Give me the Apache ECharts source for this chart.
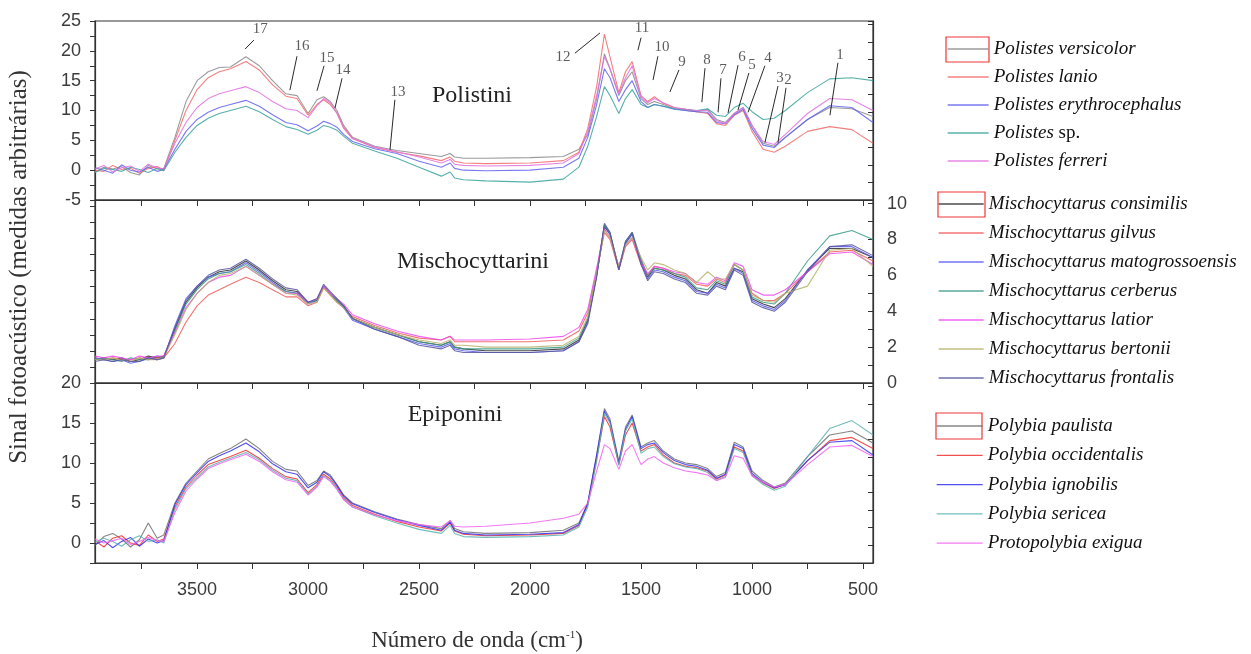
<!DOCTYPE html>
<html>
<head>
<meta charset="utf-8">
<script src="https://cdn.jsdelivr.net/npm/echarts@6/dist/echarts.min.js"></script>
<style>
  html, body { margin: 0; padding: 0; background: #fff; }
  #chart { width: 1251px; height: 654px; }
</style>
</head>
<body>
<div id="chart"></div>
<script>
// wavenumber grid (cm-1) shared by every spectrum
const wavenumbers = [3960, 3920, 3880, 3840, 3800, 3760, 3720, 3680, 3650,
  3600, 3550, 3500, 3450, 3400, 3350, 3280,
  3220, 3160, 3100, 3050, 3000,
  2960, 2930, 2900, 2870, 2840, 2800,
  2700, 2600, 2500, 2400, 2360, 2340, 2300,
  2200, 2000, 1850, 1780, 1740, 1700,
  1665, 1640, 1600, 1570, 1540,
  1500, 1470, 1440, 1400, 1350, 1300,
  1250, 1200, 1160, 1120, 1080, 1040,
  1000, 950, 900, 850, 750, 650, 550, 455];

// Polistini (left axis, top panel)
const polistesVersicolor = [-0.3, 0.5, 0.2, 0.6, -0.4, -0.8, 0.8, 0.2, 0.3,
  5.5, 11.5, 15, 16.5, 17.2, 17.3, 19,
  17.5, 15, 12.8, 12.5, 9.5,
  11.8, 12.3, 11.5, 10, 7.5, 5.5,
  4.0, 3.3, 2.8, 2.3, 2.8, 2.2, 2.0,
  2.0, 2.1, 2.3, 3.5, 6, 12,
  19.5, 17, 12.5, 15, 16.5,
  12, 11, 11.5, 11, 10.3, 10,
  9.8, 10.2, 8.5, 8, 9.5, 10.5,
  7.5, 4.5, 4, 5.5, 8.5, 10.5, 10.3, 9];
const polistesLanio = [0, -0.2, 0.8, 0.1, 0.3, -0.5, 0.3, 0.6, 0,
  5, 10, 13.5, 15.5, 16.5, 17, 18.2,
  16.8, 14.3, 12.4, 12, 9.2,
  11, 11.8, 11, 9.6, 7.2, 5.3,
  3.8, 3.0, 2.4, 1.6, 2.2, 1.5, 1.2,
  1.1, 1.2, 1.6, 3, 7, 14,
  22.8, 19, 13, 16.5, 18.2,
  12.5, 11.5, 12.3, 11.2, 10.5, 10.2,
  9.8, 9.5, 7.8, 7.5, 9.2, 10,
  6.5, 3.5, 3, 4, 6.5, 7.3, 6.8, 4.5];
const polistesErythrocephalus = [0.4, 0, -0.5, 0.9, 0, -0.3, 0.5, -0.2, 0.1,
  3.5, 6.5, 8.5, 9.7, 10.5, 11, 11.7,
  10.7, 9.3, 8, 7.6, 6.6,
  7.4, 8.2, 7.8, 7.2, 6, 4.8,
  3.6, 2.8, 1.5, 0.5, 1.2, 0.3, 0,
  -0.1, 0, 0.5, 2, 5.5, 11,
  17, 15.5, 11.5, 13.5, 15,
  11.5, 10.5, 11, 10.7, 10.2, 10,
  9.8, 9.7, 8, 7.8, 9.3, 10.2,
  7, 4.2, 3.8, 5.5, 8.5, 10.8, 10.5, 8];
const polistesSp = [-0.4, 0.3, 0.1, -0.2, 0.5, 0.1, -0.4, 0.3, -0.1,
  3, 5.5, 7.5, 8.7, 9.5, 10, 10.7,
  9.8, 8.5, 7.3, 6.8, 6,
  6.7, 7.5, 7.2, 6.7, 5.7, 4.5,
  3.2, 2, 0.5, -1, -0.3, -1.3, -1.6,
  -1.8, -2, -1.5, 0.5, 4, 9,
  14, 12.5, 9.5, 12, 13.5,
  11, 10.5, 11, 10.7, 10.3, 10.2,
  10, 10.3, 9.2, 9, 10.5, 11.2,
  9.8, 8.5, 8.7, 10, 13, 15.3, 15.5, 15];
const polistesFerreri = [0.2, 0.8, -0.3, 0.4, 0.7, -0.2, 1, 0.4, 0.2,
  4.5, 8, 10.5, 12, 12.8, 13.3, 14,
  13, 11.5, 10.3, 10, 8.8,
  10.8, 12, 11.3, 9.5, 7, 5.3,
  3.9, 3.1, 2.2, 1.2, 1.8, 1, 0.8,
  0.7, 0.8, 1.2, 2.8, 6.5, 12.5,
  19, 17, 12.8, 15.5, 17.5,
  12.3, 11.3, 12, 11.3, 10.5, 10.2,
  10, 10, 8.3, 7.8, 9.5, 10.5,
  7.5, 4.8, 4.3, 6, 9.5, 12, 11.8, 10];

// Mischocyttarini (right axis 0-10, middle panel)
const mischConsimilis = [1.3, 1.4, 1.3, 1.4, 1.2, 1.3, 1.5, 1.4, 1.5,
  3, 4.5, 5.3, 5.9, 6.2, 6.3, 6.8,
  6.3, 5.7, 5.2, 5.1, 4.5,
  4.6, 5.4, 5, 4.6, 4.3, 3.6,
  3.1, 2.7, 2.3, 2.1, 2.3, 2, 1.9,
  1.8, 1.8, 1.9, 2.4, 3.5, 6,
  8.7, 8.3, 6.4, 7.8, 8.3,
  6.8, 5.9, 6.4, 6.3, 6, 5.8,
  5.2, 5, 5.6, 5.4, 6.4, 6.2,
  4.7, 4.4, 4.2, 4.7, 6.3, 7.5, 7.5, 7];
const mischGilvus = [1.4, 1.3, 1.4, 1.3, 1.3, 1.4, 1.3, 1.4, 1.4,
  2.2, 3.4, 4.3, 4.9, 5.2, 5.5, 5.9,
  5.6, 5.2, 4.8, 4.8, 4.3,
  4.5, 5.3, 4.9, 4.5, 4.2, 3.7,
  3.2, 2.8, 2.5, 2.4, 2.6, 2.3, 2.3,
  2.3, 2.3, 2.4, 2.9, 3.9, 6.2,
  8.4, 8.0, 6.3, 7.6, 8,
  6.6, 6, 6.5, 6.4, 6.1, 6,
  5.5, 5.4, 5.8, 5.6, 6.6, 6.3,
  5, 4.6, 4.6, 5, 6.2, 7.3, 7.4, 6.8];
const mischMatogrossoensis = [1.4, 1.3, 1.2, 1.3, 1.1, 1.2, 1.4, 1.3, 1.4,
  3.2, 4.7, 5.4, 5.9, 6.1, 6.2, 6.7,
  6.2, 5.6, 5.1, 5, 4.4,
  4.6, 5.4, 5, 4.6, 4.2, 3.5,
  3, 2.6, 2.2, 2, 2.2, 1.9, 1.8,
  1.7, 1.7, 1.8, 2.3, 3.4, 6,
  8.8, 8.3, 6.3, 7.8, 8.3,
  6.7, 5.8, 6.3, 6.2, 5.9, 5.7,
  5.1, 5, 5.5, 5.3, 6.4, 6.1,
  4.6, 4.3, 4.1, 4.6, 6.3, 7.6, 7.6, 7];
const mischCerberus = [1.3, 1.4, 1.3, 1.2, 1.4, 1.3, 1.3, 1.5, 1.4,
  2.9, 4.4, 5.2, 5.8, 6.1, 6.2, 6.6,
  6.1, 5.5, 5.1, 5, 4.5,
  4.6, 5.4, 5, 4.6, 4.3, 3.6,
  3.1, 2.7, 2.3, 2.1, 2.3, 2, 1.9,
  1.9, 1.9, 2, 2.5, 3.6, 6.1,
  8.8, 8.4, 6.4, 7.9, 8.4,
  6.9, 6, 6.4, 6.3, 6.1, 5.9,
  5.3, 5.2, 5.7, 5.5, 6.6, 6.3,
  4.8, 4.5, 4.4, 5, 6.8, 8.2, 8.5, 8];
const mischLatior = [1.5, 1.4, 1.5, 1.4, 1.3, 1.5, 1.4, 1.5, 1.5,
  2.8, 4.2, 5, 5.6, 5.9, 6, 6.5,
  6, 5.5, 5, 5, 4.5,
  4.7, 5.4, 5, 4.7, 4.4, 3.8,
  3.3, 2.9, 2.6, 2.4, 2.6, 2.4, 2.4,
  2.4, 2.45, 2.6, 3.1, 4.1, 6.4,
  8.6, 8.1, 6.5, 7.7, 8.1,
  6.7, 6.1, 6.5, 6.4, 6.2, 6.1,
  5.6, 5.5, 5.9, 5.7, 6.7, 6.5,
  5.2, 4.9, 4.9, 5.2, 6.2, 7.2, 7.3, 6.6];
const mischBertonii = [1.3, 1.3, 1.4, 1.3, 1.2, 1.4, 1.3, 1.3, 1.4,
  2.7, 4.1, 5, 5.6, 6, 6.1, 6.5,
  6, 5.5, 5, 4.9, 4.4,
  4.5, 5.3, 4.9, 4.5, 4.2, 3.6,
  3.1, 2.7, 2.4, 2.2, 2.4, 2.1, 2.1,
  2, 2, 2.1, 2.6, 3.7, 6.1,
  8.5, 8.1, 6.5, 7.7, 8.1,
  7, 6.3, 6.7, 6.6, 6.3, 6.1,
  5.6, 6.2, 5.8, 5.8, 6.6, 6.3,
  4.9, 4.6, 4.5, 5, 5.4, 7.4, 7.5, 6.5];
const mischFrontalis = [1.2, 1.3, 1.2, 1.3, 1.2, 1.2, 1.4, 1.3, 1.4,
  3.1, 4.6, 5.4, 6, 6.3, 6.4, 6.9,
  6.4, 5.8, 5.3, 5.2, 4.5,
  4.7, 5.5, 5.1, 4.7, 4.3, 3.6,
  3, 2.6, 2.1, 1.9, 2.1, 1.8, 1.7,
  1.7, 1.7, 1.8, 2.3, 3.3, 5.9,
  8.9, 8.4, 6.3, 7.9, 8.4,
  6.6, 5.7, 6.2, 6.1, 5.8, 5.6,
  5, 4.9, 5.4, 5.2, 6.3, 6,
  4.5, 4.2, 4, 4.5, 6.2, 7.6, 7.7, 7.1];

// Epiponini (left axis, bottom panel)
const polybiaPaulista = [-0.3, 0.8, 1.2, 0.5, -0.5, 0.4, 2.5, 0.6, 1,
  5, 7.5, 9, 10.5, 11.2, 11.8, 13,
  11.8, 10.2, 9.2, 9, 7.2,
  7.8, 9, 8.5, 7.3, 6, 5,
  3.9, 3, 2.3, 1.8, 2.8, 1.8, 1.4,
  1.2, 1.3, 1.6, 2.5, 5, 11,
  16.8, 15.5, 10.2, 14.5, 16,
  12, 12.5, 12.8, 11.5, 10.5, 10,
  9.8, 9.3, 8.3, 8.8, 12.6, 12,
  9, 7.8, 7, 7.5, 10.8, 13.5, 14, 12.5];
const polybiaOccidentalis = [0.3, -0.5, 0.6, 0.9, 0, -0.3, 1, 0.2, 0.5,
  4.5, 7, 8.5, 9.8, 10.3, 10.8, 11.6,
  10.6, 9.3, 8.3, 8, 6.3,
  7.3, 8.6, 8, 7, 5.7, 4.7,
  3.6, 2.7, 2, 1.5, 2.5, 1.5, 1.1,
  0.9, 1, 1.2, 2.2, 4.8, 10.5,
  15.8, 14.5, 9.8, 13.5, 15,
  11.5, 12, 12.3, 11, 10, 9.6,
  9.4, 9, 8, 8.5, 12, 11.5,
  8.5, 7.5, 6.8, 7.3, 10.3, 12.8, 13.2, 11.8];
const polybiaIgnobilis = [-0.2, 0.3, -0.6, 0.2, 0.7, -0.4, 0.5, 0, 0.3,
  4.8, 7.3, 8.8, 10.2, 10.9, 11.5, 12.5,
  11.4, 9.9, 8.9, 8.6, 6.9,
  7.6, 8.9, 8.3, 7.2, 5.9, 4.9,
  3.8, 2.9, 2.2, 1.6, 2.6, 1.6, 1.2,
  1, 1.1, 1.3, 2.3, 5, 11,
  16.5, 15.2, 10, 14.2, 15.8,
  11.8, 12.3, 12.5, 11.3, 10.3, 9.8,
  9.6, 9.1, 8.1, 8.6, 12.3, 11.8,
  8.7, 7.6, 6.9, 7.3, 10.3, 12.6, 12.8, 11];
const polybiaSericea = [0.1, 0.6, 0.2, -0.4, 0.4, 0.9, 0.2, 0.4, 0,
  4.2, 6.8, 8.2, 9.5, 10.1, 10.6, 11.3,
  10.4, 9.1, 8.1, 7.8, 6.1,
  7.1, 8.4, 7.8, 6.8, 5.5, 4.5,
  3.4, 2.5, 1.7, 1.2, 2.2, 1.2, 0.8,
  0.7, 0.8, 1, 2, 4.5, 10.2,
  16.2, 15, 9.7, 14, 15.5,
  11.2, 11.8, 12, 10.8, 9.9, 9.5,
  9.3, 8.8, 7.8, 8.3, 11.8, 11.3,
  8.4, 7.3, 6.6, 7.1, 10.8, 14.3, 15.3, 13.5];
const protopolybiaExigua = [0.5, 0, 0.3, 0.6, -0.2, 0.2, 0.7, 0.3, 0.2,
  3.8, 6.5, 8, 9.3, 9.9, 10.4, 11.1,
  10.2, 8.9, 7.9, 7.6, 6,
  7, 8.3, 7.7, 6.7, 5.4, 4.5,
  3.5, 2.8, 2.3, 2, 2.8, 2.1, 2,
  2.1, 2.5, 3.1, 3.6, 5, 9,
  12.3, 11.8, 9.2, 11.5, 12.3,
  9.8, 10.5, 10.8, 10, 9.4, 9,
  8.8, 8.5, 7.8, 8.2, 10.9, 10.6,
  8.4, 7.6, 7, 7.3, 9.8, 12, 12.2, 10.8];

// axis ticks
const xTickValues = [500, 750, 1000, 1250, 1500, 1750, 2000, 2250, 2500, 2750, 3000, 3250, 3500, 3750];
const xLabelValues = [500, 1000, 1500, 2000, 2500, 3000, 3500];

// numbered band annotations in the Polistini panel
const annoText = ['17', '16', '15', '14', '13', '12', '11', '10', '9', '8', '7', '6', '5', '4', '3', '2', '1'];
const annoLabelWn = [3215, 3027, 2915, 2843, 2595, 1852, 1496, 1406, 1316, 1203, 1131, 1045, 1000, 928, 874, 838, 604];
const annoLabelV = [23.6, 20.8, 18.8, 16.8, 13.1, 19.0, 23.8, 20.6, 18.1, 18.5, 16.8, 19.0, 17.6, 18.8, 15.4, 15.1, 19.3];
const annoStartWn = [3244, 3050, 2928, 2847, 2609, 1798, 1500, 1424, 1329, 1212, 1140, 1063, 1014, 942, 883, 847, 613];
const annoStartV = [21.8, 19.1, 17.5, 15.4, 11.8, 19.6, 22.2, 19.1, 16.8, 17.1, 15.4, 17.6, 16.3, 17.5, 14.1, 13.8, 18.0];
const annoTipWn = [3284, 3082, 2960, 2879, 2631, 1685, 1514, 1446, 1370, 1226, 1153, 1108, 1063, 1018, 942, 883, 649];
const annoTipV = [20.3, 13.4, 13.3, 10.4, 3.4, 23.0, 20.1, 15.1, 13.1, 11.4, 9.7, 9.6, 10.1, 9.7, 4.6, 4.6, 9.2];

const species = [
  { name: 'Polistes versicolor', panel: 0, values: polistesVersicolor, color: '#8a8a8a' },
  { name: 'Polistes lanio', panel: 0, values: polistesLanio, color: '#f26a6a' },
  { name: 'Polistes erythrocephalus', panel: 0, values: polistesErythrocephalus, color: '#6262f0' },
  { name: 'Polistes sp.', panel: 0, values: polistesSp, color: '#38a39c' },
  { name: 'Polistes ferreri', panel: 0, values: polistesFerreri, color: '#e070e0' },
  { name: 'Mischocyttarus consimilis', panel: 1, values: mischConsimilis, color: '#2a2a2a' },
  { name: 'Mischocyttarus gilvus', panel: 1, values: mischGilvus, color: '#f05a5a' },
  { name: 'Mischocyttarus matogrossoensis', panel: 1, values: mischMatogrossoensis, color: '#5a5af0' },
  { name: 'Mischocyttarus cerberus', panel: 1, values: mischCerberus, color: '#3a9a88' },
  { name: 'Mischocyttarus latior', panel: 1, values: mischLatior, color: '#f046f0' },
  { name: 'Mischocyttarus bertonii', panel: 1, values: mischBertonii, color: '#b5b06a' },
  { name: 'Mischocyttarus frontalis', panel: 1, values: mischFrontalis, color: '#55559a' },
  { name: 'Polybia paulista', panel: 2, values: polybiaPaulista, color: '#707070' },
  { name: 'Polybia occidentalis', panel: 2, values: polybiaOccidentalis, color: '#f03030' },
  { name: 'Polybia ignobilis', panel: 2, values: polybiaIgnobilis, color: '#3030f0' },
  { name: 'Polybia sericea', panel: 2, values: polybiaSericea, color: '#58b2b2' },
  { name: 'Protopolybia exigua', panel: 2, values: protopolybiaExigua, color: '#f262f2' }
];

const panelYAxis = [0, 3, 4];
const tickFont = { color: '#3c3c3c', fontFamily: 'Liberation Sans', fontSize: 18 };
const axisColor = '#333';

function xAxisFor(i, showLabels) {
  return {
    type: 'value', gridIndex: i, inverse: true, min: 455, max: 3960,
    axisLine: { show: true, onZero: false, lineStyle: { color: axisColor, width: 1.2 } },
    axisTick: { show: true, inside: false, length: 6, customValues: xTickValues, lineStyle: { color: axisColor } },
    axisLabel: Object.assign({ show: showLabels, margin: 18, customValues: xLabelValues, formatter: v => String(v) }, tickFont),
    splitLine: { show: false }
  };
}

function yAxisFor(grid, pos, min, max, interval, fmt, inside) {
  return {
    type: 'value', gridIndex: grid, position: pos, min: min, max: max, interval: interval,
    axisLine: { show: true, onZero: false, lineStyle: { color: axisColor, width: 1.2 } },
    axisTick: { show: true, inside: inside, length: 5, lineStyle: { color: axisColor } },
    axisLabel: Object.assign({ show: !!fmt, margin: 14, formatter: fmt || '' }, tickFont),
    splitLine: { show: false }
  };
}

const every5 = v => (v % 5 === 0 ? String(v) : '');
const even = v => (Number.isInteger(v) && v % 2 === 0 ? String(v) : '');

const series = species.map(s => ({
  name: s.name,
  type: 'line',
  xAxisIndex: s.panel,
  yAxisIndex: panelYAxis[s.panel],
  data: wavenumbers.map((w, i) => [w, s.values[i]]),
  symbol: 'none',
  color: s.color,
  lineStyle: { width: 1.1, color: s.color, opacity: 0.85 },
  silent: true
}));

series.push({
  type: 'scatter',
  xAxisIndex: 0, yAxisIndex: 0,
  symbolSize: 1,
  itemStyle: { color: 'transparent' },
  silent: true,
  data: annoText.map((t, i) => ({ name: t, value: [annoLabelWn[i], annoLabelV[i]] })),
  label: { show: true, position: 'inside', formatter: '{b}', color: '#333', fontFamily: 'Liberation Serif', fontSize: 15 },
  markLine: {
    silent: true,
    symbol: ['none', 'arrow'],
    symbolSize: [0, 8],
    label: { show: false },
    lineStyle: { color: '#111', width: 0.9, type: 'solid' },
    emphasis: { disabled: true },
    data: annoText.map((t, i) => [
      { coord: [annoStartWn[i], annoStartV[i]] },
      { coord: [annoTipWn[i], annoTipV[i]] }
    ])
  }
});

function legendFor(panel, left, top, gap, itemWidth) {
  return {
    orient: 'vertical', left: left, top: top, padding: 0,
    itemGap: gap, itemWidth: itemWidth, itemHeight: 14,
    selectedMode: false,
    itemStyle: { opacity: 0 },
    lineStyle: { width: 1.3 },
    data: species.filter(s => s.panel === panel).map(s => s.name),
    formatter: name => name === 'Polistes sp.' ? '{i|Polistes} {n|sp.}' : '{i|' + name + '}',
    textStyle: {
      color: '#111', fontFamily: 'Liberation Serif', fontSize: 19, lineHeight: 20,
      rich: {
        i: { fontStyle: 'italic', fontFamily: 'Liberation Serif', fontSize: 19, lineHeight: 20, color: '#111' },
        n: { fontStyle: 'normal', fontFamily: 'Liberation Serif', fontSize: 19, lineHeight: 20, color: '#111' }
      }
    }
  };
}

const boxStyle = { fill: 'none', stroke: '#ee3636', lineWidth: 1.2 };
const titleStyle = { fill: '#222', fontFamily: 'Liberation Serif', fontSize: 24, align: 'center', verticalAlign: 'middle' };

const chart = echarts.init(document.getElementById('chart'));
chart.setOption({
  animation: false,
  backgroundColor: '#fff',
  grid: [
    { left: 95, right: 378, top: 21, height: 179, show: true, borderColor: axisColor, borderWidth: 1.2 },
    { left: 95, right: 378, top: 200, height: 183, show: true, borderColor: axisColor, borderWidth: 1.2 },
    { left: 95, right: 378, top: 383, height: 180, show: true, borderColor: axisColor, borderWidth: 1.2 }
  ],
  xAxis: [xAxisFor(0, false), xAxisFor(1, false), xAxisFor(2, true)],
  yAxis: [
    yAxisFor(0, 'left', -5, 25, 2.5, every5, false),
    yAxisFor(0, 'right', 0, 10.2, 1, null, true),
    yAxisFor(1, 'left', 0, 11.4, 1, null, false),
    yAxisFor(1, 'right', 0, 10.2, 1, even, true),
    yAxisFor(2, 'left', -2.5, 20, 2.5, every5, false),
    yAxisFor(2, 'right', 0, 10.2, 1, null, true)
  ],
  legend: [
    legendFor(0, 947, 39, 8, 41),
    legendFor(1, 938, 194, 9, 45),
    legendFor(2, 936, 416, 9.3, 46)
  ],
  graphic: [
    { type: 'rect', shape: { x: 946, y: 37, width: 43, height: 25 }, style: boxStyle, silent: true },
    { type: 'rect', shape: { x: 938, y: 192, width: 47, height: 25 }, style: boxStyle, silent: true },
    { type: 'rect', shape: { x: 936, y: 413, width: 46, height: 26 }, style: boxStyle, silent: true },
    { type: 'text', x: 472, y: 96, style: Object.assign({ text: 'Polistini' }, titleStyle), silent: true },
    { type: 'text', x: 473, y: 262, style: Object.assign({ text: 'Mischocyttarini' }, titleStyle), silent: true },
    { type: 'text', x: 455, y: 415, style: Object.assign({ text: 'Epiponini' }, titleStyle), silent: true },
    {
      type: 'text', x: 19, y: 267, rotation: Math.PI / 2, silent: true,
      style: { text: 'Sinal fotoacústico (medidas arbitrárias)', fill: '#333', fontFamily: 'Liberation Serif', fontSize: 25, align: 'center', verticalAlign: 'middle' }
    },
    {
      type: 'text', x: 477, y: 641, silent: true,
      style: {
        text: '{a|Número de onda (cm}{s|-1}{a|)}',
        align: 'center', verticalAlign: 'middle',
        rich: {
          a: { fill: '#333', color: '#333', fontFamily: 'Liberation Serif', fontSize: 23, lineHeight: 26 },
          s: { fill: '#333', color: '#333', fontFamily: 'Liberation Serif', fontSize: 11, lineHeight: 26, verticalAlign: 'top', padding: [2, 0, 0, 0] }
        }
      }
    }
  ],
  series: series
});
</script>
</body>
</html>
